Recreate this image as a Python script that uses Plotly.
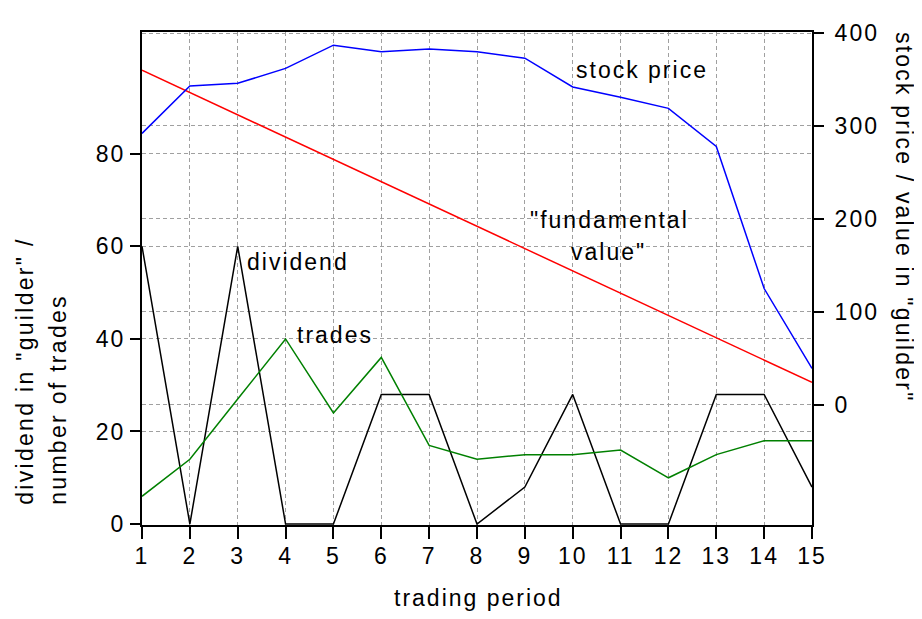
import plotly.graph_objects as go

periods = list(range(1, 16))
dividend = [60, 0, 60, 0, 0, 28, 28, 0, 8, 28, 0, 0, 28, 28, 8]
trades = [6, 14, 27, 40, 24, 36, 17, 14, 15, 15, 16, 10, 15, 18, 18]
stock_price = [292, 343, 346, 362, 387, 380, 383, 380, 373, 342, 331, 319, 278, 125, 39]
fundamental_value = [360, 336, 312, 288, 264, 240, 216, 192, 168, 144, 120, 96, 72, 48, 24]

left_ticks = [0, 20, 40, 60, 80]
right_ticks = [0, 100, 200, 300, 400]
x_ticks = periods

FONT = "Liberation Sans, Arial, sans-serif"
FS = 23
LS = "2px"

# page body has an 8px default margin; plot area spans px 142..812 x 24..525 in the window
PX0, PX1, PY0, PY1 = 142, 812, 24, 525


def sp(t, ls=LS):
    return f'<span style="letter-spacing:{ls}">{t}</span>'


def px(x):
    return (x - PX0) / (PX1 - PX0)


def py(y):
    return (PY1 - y) / (PY1 - PY0)


fig = go.Figure()
fig.add_trace(go.Scatter(x=periods, y=dividend, mode="lines", line=dict(color="black", width=1.5), yaxis="y"))
fig.add_trace(go.Scatter(x=periods, y=trades, mode="lines", line=dict(color="#008000", width=1.5), yaxis="y"))
fig.add_trace(go.Scatter(x=periods, y=fundamental_value, mode="lines", line=dict(color="#ff0000", width=1.5), yaxis="y2"))
fig.add_trace(go.Scatter(x=periods, y=stock_price, mode="lines", line=dict(color="#0000ff", width=1.5), yaxis="y2"))

grid = dict(showgrid=True, gridcolor="#a0a0a0", gridwidth=1, griddash="4px,3px")
axcommon = dict(ticks="outside", tickwidth=2, tickcolor="black",
                showline=True, linecolor="black", linewidth=2, zeroline=False,
                tickfont=dict(size=FS), **grid)

fig.update_layout(
    width=914, height=603,
    margin=dict(l=134, r=110, t=16, b=86, pad=0),
    paper_bgcolor="white", plot_bgcolor="white",
    showlegend=False,
    font=dict(family=FONT, size=FS, color="black"),
    xaxis=dict(range=[1, 15], tickvals=x_ticks, ticktext=[sp(v) for v in x_ticks],
               mirror=True, ticklen=12, ticklabelstandoff=-3, **axcommon),
    yaxis=dict(range=[-0.2, 106.3], tickvals=left_ticks, ticktext=[sp(v) for v in left_ticks],
               ticklen=10, **axcommon),
    yaxis2=dict(range=[-129.6, 401.2], tickvals=right_ticks, ticktext=[sp(v) for v in right_ticks],
                overlaying="y", side="right", ticklen=10, ticklabelstandoff=6, **axcommon),
)

ann = []
# series labels
ann.append(dict(x=11.448, y=359.9, xref="x", yref="y2", text=sp("stock price")))
ann.append(dict(x=10.77, y=(402.7 - 215) / 0.944, xref="x", yref="y2", text=sp('"fundamental')))
ann.append(dict(x=10.75, y=(402.7 - 248) / 0.944, xref="x", yref="y2", text=sp('value"')))
ann.append(dict(x=4.26, y=56.6, xref="x", yref="y", text=sp("dividend")))
ann.append(dict(x=5.03, y=40.9, xref="x", yref="y", text=sp("trades")))
# axis titles
ann.append(dict(x=px(478), y=py(599), xref="paper", yref="paper", text=sp("trading period")))
ann.append(dict(x=px(25), y=py(507), xref="paper", yref="paper", yanchor="bottom",
                text=sp('dividend in "guilder" /', "2.3px"), textangle=-90))
ann.append(dict(x=px(58), y=py(507), xref="paper", yref="paper", yanchor="bottom",
                text=sp("number of trades", "2.3px"), textangle=-90))
ann.append(dict(x=px(904), y=py(212), xref="paper", yref="paper",
                text=sp('stock price / value in "guilder"', "2.2px"), textangle=90))
for a in ann:
    a.setdefault("xanchor", "center")
    a.setdefault("yanchor", "middle")
    a["showarrow"] = False
    a["font"] = dict(family=FONT, size=FS, color="black")
fig.update_layout(annotations=ann)

fig.write_html("out.html")
